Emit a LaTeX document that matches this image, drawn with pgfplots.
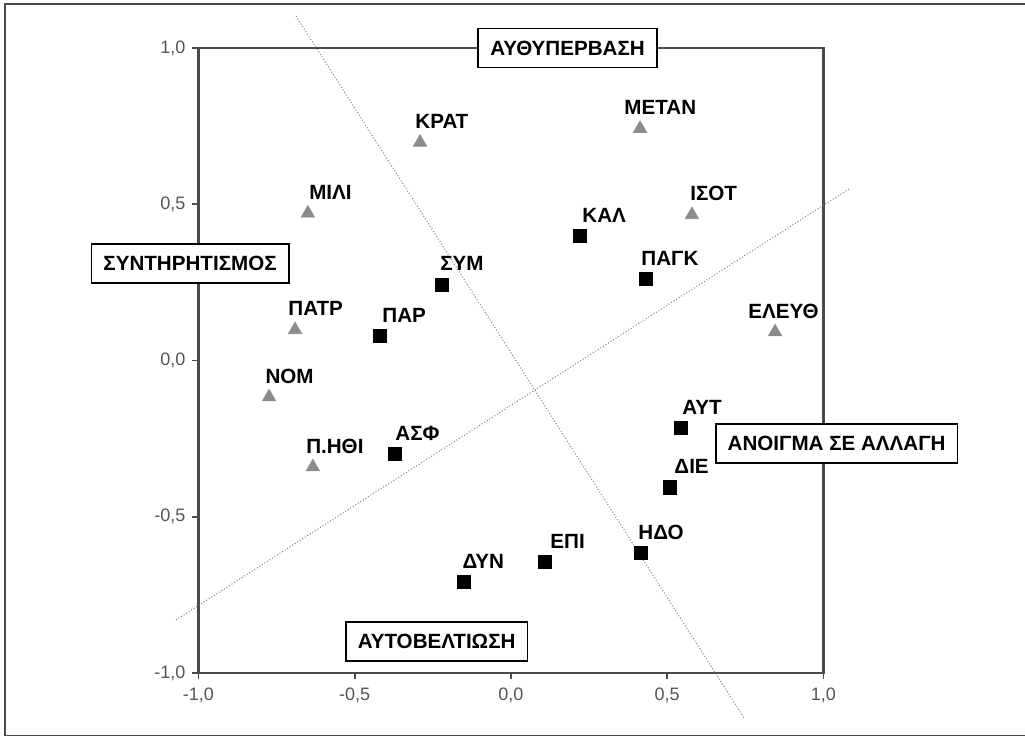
\documentclass[border=0pt]{standalone}
\usepackage{pgfplots}
\pgfplotsset{compat=1.18}
\usepackage{pgfplotstable}
\usepackage{fontspec}
\setmainfont{Liberation Sans}

\definecolor{axisgray}{HTML}{4A4A4A}
\definecolor{markgray}{HTML}{8C8C8C}
\definecolor{tickgray}{HTML}{555555}

% x, y = coordinates; dx = label offset in pt
\pgfplotstableread{
x       y       dx     label
-0.291  0.698  -2.5    ΚΡΑΤ
-0.650  0.471   0.5    ΜΙΛΙ
 0.413  0.742  -8.0    ΜΕΤΑΝ
 0.579  0.466  -1.0    ΙΣΟΤ
-0.691  0.098  -3.5    ΠΑΤΡ
-0.774 -0.117  -2.0    ΝΟΜ
-0.634 -0.341  -3.5    Π.ΗΘΙ
 0.845  0.091 -13.5    ΕΛΕΥΘ
}\valuestable

\pgfplotstableread{
x       y       dx     label
 0.221  0.398   1.0    ΚΑΛ
-0.221  0.242  -1.0    ΣΥΜ
-0.419  0.078   1.0    ΠΑΡ
 0.432  0.261  -2.5    ΠΑΓΚ
-0.371 -0.299   0.0    ΑΣΦ
 0.544 -0.216   0.5    ΑΥΤ
 0.509 -0.406   2.0    ΔΙΕ
 0.416 -0.616  -1.5    ΗΔΟ
 0.109 -0.645   2.5    ΕΠΙ
-0.150 -0.709  -1.0    ΔΥΝ
}\typestable

\pgfplotsset{
    pointlabels/.style={
        nodes near coords,
        point meta=explicit symbolic,
        visualization depends on={\thisrow{dx}\as\dx},
        every node near coord/.append style={
            anchor=west, xshift=\dx pt, yshift=10.5pt, inner sep=0pt,
            font=\fontsize{10.3}{12}\selectfont\bfseries, text=black},
    },
}

\begin{document}
\begin{tikzpicture}
\begin{axis}[
    scale only axis,
    width=312.5pt, height=312.5pt,
    xmin=-1, xmax=1, ymin=-1, ymax=1,
    xtick={-1,-0.5,0,0.5,1},
    ytick={-1,-0.5,0,0.5,1},
    xtick pos=bottom, ytick pos=left,
    tick align=outside,
    major tick length=3pt,
    axis line style={axisgray, line width=1.1pt},
    every tick/.style={axisgray, line width=0.8pt},
    tick label style={font=\fontsize{9}{10}\selectfont, text=tickgray},
    xticklabel style={yshift=-1pt},
    /pgf/number format/.cd, fixed, fixed zerofill, precision=1, use comma,
    assume math mode=true,
    /pgfplots/.cd,
    clip=false,
]
% dotted dimension lines
\addplot[densely dotted, gray, line width=0.5pt]
    coordinates {(-0.688,1.102) (0.746,-1.144)};
\addplot[densely dotted, gray, line width=0.5pt]
    coordinates {(-1.072,-0.830) (1.086,0.552)};

\addplot[only marks, mark=triangle*, mark size=3.8pt,
    mark options={fill=markgray, draw=markgray}, pointlabels]
    table[x=x, y=y, meta=label] {\valuestable};
\addplot[only marks, mark=square*, mark size=3.3pt,
    mark options={fill=black, draw=black}, pointlabels]
    table[x=x, y=y, meta=label] {\typestable};

\tikzset{dimbox/.style={draw=black, line width=0.9pt, fill=white,
    font=\fontsize{10.3}{12}\selectfont\bfseries, minimum height=19.5pt,
    inner xsep=6pt}}
\node[dimbox] at (axis cs:0.181,1.0) {ΑΥΘΥΠΕΡΒΑΣΗ};
\node[dimbox] at (axis cs:-1.027,0.310) {ΣΥΝΤΗΡΗΤΙΣΜΟΣ};
\node[dimbox] at (axis cs:1.042,-0.266) {ΑΝΟΙΓΜΑ ΣΕ ΑΛΛΑΓΗ};
\node[dimbox] at (axis cs:-0.238,-0.899) {ΑΥΤΟΒΕΛΤΙΩΣΗ};

% outer frame (right side runs off the page) and page extent
\draw[axisgray, line width=0.8pt]
    (rel axis cs:-0.3096,1.0704) rectangle (rel axis cs:1.34,-0.100);
\coordinate (bbA) at (rel axis cs:-0.3176,-0.1024);
\coordinate (bbB) at (rel axis cs:1.3224,1.0768);
\end{axis}
\pgfresetboundingbox
\path[use as bounding box] (bbA) rectangle (bbB);
\end{tikzpicture}
\end{document}
